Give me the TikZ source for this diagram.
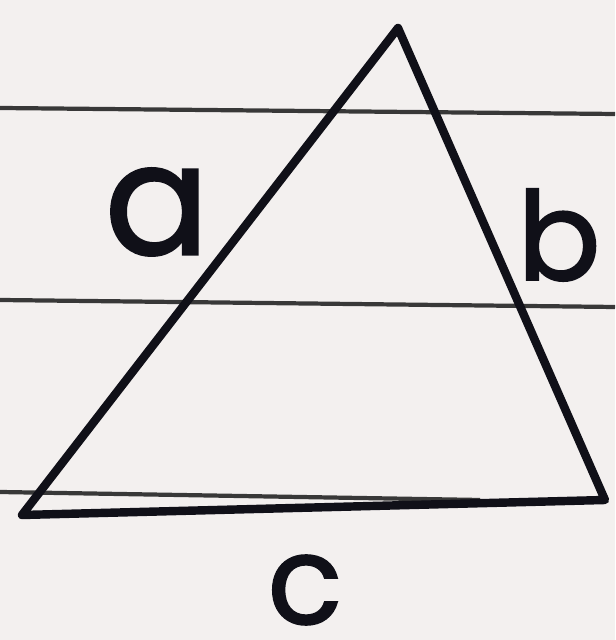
\documentclass[tikz,border=0pt]{standalone}
\usepackage{fontspec}
\usepackage{xcolor}
\usepackage{tikz}
\setmainfont{Poppins}
\newfontfamily\handfont{Poppins}[FakeBold=1.6]
\definecolor{paper}{HTML}{F3F0EF}
\definecolor{rule}{HTML}{383838}
\definecolor{ink}{HTML}{101018}

\begin{document}
\begin{tikzpicture}[side/.style={draw=ink, line width=4.8pt, line join=round, line cap=round},
  ruled/.style={draw=rule, line width=2.4pt},
  letter/.style={text=ink, inner sep=0pt}]
% Paper
\fill[paper] (0,0) rectangle (12.3,12.8);
\useasboundingbox (0,0) rectangle (12.3,12.8);
% Ruled lines
\draw[ruled] (0,10.64) -- (12.3,10.52);
\draw[ruled] (0,6.80) -- (12.3,6.66);
\draw[ruled] (0,2.96) -- (9.6,2.80);
% Triangle
\coordinate (top) at (7.96,12.24);
\coordinate (bl) at (0.44,2.50);
\coordinate (br) at (12.10,2.80);
\draw[side] (top) -- (bl) -- (br) -- cycle;
% Labels
\node[letter, font=\handfont\fontsize{88}{88}\selectfont] (la) at (3.14,8.56) {a};
\node[letter, font=\handfont\fontsize{70}{70}\selectfont] (lb) at (11.18,8.10) {b};
\node[letter, font=\handfont\fontsize{70}{70}\selectfont] (lc) at (6.10,1.00) {c};
\end{tikzpicture}
\end{document}
